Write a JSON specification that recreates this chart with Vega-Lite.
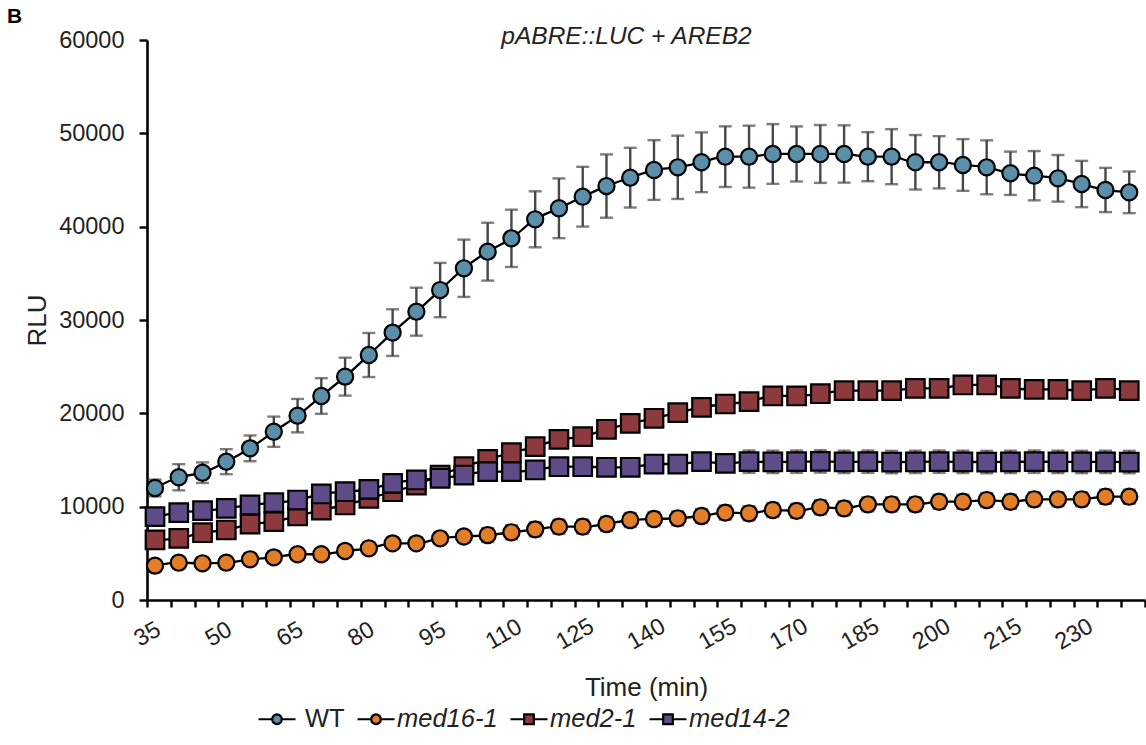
{
 "$schema": "https://vega.github.io/schema/vega-lite/v6.json",
 "width": 998, "height": 560,
 "autosize": {"type": "none"},
 "padding": {"left": 147, "top": 40, "right": 1, "bottom": 145},
 "background": "white",
 "title": {"text": "B", "anchor": "start", "frame": "group", "fontSize": 21, "fontWeight": "bold", "font": "Liberation Sans", "dx": -140, "offset": -4, "color": "#000"},
 "config": {"view": {"stroke": null}, "font": "Liberation Sans"},
 "data": {"values": [
{"t":35,"s":"WT","v":12000,"e":900},{"t":40,"s":"WT","v":13150,"e":1400},{"t":45,"s":"WT","v":13640,"e":1100},{"t":50,"s":"WT","v":14820,"e":1340},{"t":55,"s":"WT","v":16250,"e":1380},{"t":60,"s":"WT","v":18030,"e":1620},{"t":65,"s":"WT","v":19750,"e":1790},{"t":70,"s":"WT","v":21860,"e":1910},{"t":75,"s":"WT","v":23930,"e":2030},{"t":80,"s":"WT","v":26250,"e":2360},
{"t":85,"s":"WT","v":28650,"e":2500},{"t":90,"s":"WT","v":30890,"e":2570},{"t":95,"s":"WT","v":33210,"e":2910},{"t":100,"s":"WT","v":35540,"e":3070},{"t":105,"s":"WT","v":37320,"e":3100},{"t":110,"s":"WT","v":38750,"e":3070},{"t":115,"s":"WT","v":40790,"e":3000},{"t":120,"s":"WT","v":41970,"e":3200},{"t":125,"s":"WT","v":43210,"e":3200},{"t":130,"s":"WT","v":44350,"e":3390},
{"t":135,"s":"WT","v":45250,"e":3200},{"t":140,"s":"WT","v":46070,"e":3200},{"t":145,"s":"WT","v":46360,"e":3390},{"t":150,"s":"WT","v":46900,"e":3200},{"t":155,"s":"WT","v":47500,"e":3250},{"t":160,"s":"WT","v":47500,"e":3320},{"t":165,"s":"WT","v":47790,"e":3200},{"t":170,"s":"WT","v":47790,"e":2950},{"t":175,"s":"WT","v":47790,"e":3100},{"t":180,"s":"WT","v":47790,"e":3070},
{"t":185,"s":"WT","v":47500,"e":2630},{"t":190,"s":"WT","v":47500,"e":2950},{"t":195,"s":"WT","v":46900,"e":2920},{"t":200,"s":"WT","v":46900,"e":2800},{"t":205,"s":"WT","v":46610,"e":2770},{"t":210,"s":"WT","v":46360,"e":2890},{"t":215,"s":"WT","v":45720,"e":2320},{"t":220,"s":"WT","v":45460,"e":2640},{"t":225,"s":"WT","v":45180,"e":2500},{"t":230,"s":"WT","v":44570,"e":2480},{"t":235,"s":"WT","v":43930,"e":2370},{"t":240,"s":"WT","v":43680,"e":2230},
{"t":35,"s":"med16-1","v":3680,"e":600},{"t":40,"s":"med16-1","v":4000,"e":600},{"t":45,"s":"med16-1","v":3930,"e":600},{"t":50,"s":"med16-1","v":4000,"e":600},{"t":55,"s":"med16-1","v":4360,"e":600},{"t":60,"s":"med16-1","v":4570,"e":600},{"t":65,"s":"med16-1","v":4900,"e":600},{"t":70,"s":"med16-1","v":4900,"e":600},{"t":75,"s":"med16-1","v":5250,"e":600},{"t":80,"s":"med16-1","v":5540,"e":600},
{"t":85,"s":"med16-1","v":6070,"e":600},{"t":90,"s":"med16-1","v":6070,"e":600},{"t":95,"s":"med16-1","v":6610,"e":600},{"t":100,"s":"med16-1","v":6800,"e":600},{"t":105,"s":"med16-1","v":6960,"e":750},{"t":110,"s":"med16-1","v":7250,"e":750},{"t":115,"s":"med16-1","v":7570,"e":750},{"t":120,"s":"med16-1","v":7860,"e":750},{"t":125,"s":"med16-1","v":7860,"e":750},{"t":130,"s":"med16-1","v":8140,"e":750},
{"t":135,"s":"med16-1","v":8570,"e":750},{"t":140,"s":"med16-1","v":8680,"e":750},{"t":145,"s":"med16-1","v":8750,"e":750},{"t":150,"s":"med16-1","v":9000,"e":750},{"t":155,"s":"med16-1","v":9360,"e":750},{"t":160,"s":"med16-1","v":9290,"e":750},{"t":165,"s":"med16-1","v":9640,"e":750},{"t":170,"s":"med16-1","v":9550,"e":750},{"t":175,"s":"med16-1","v":9930,"e":750},{"t":180,"s":"med16-1","v":9820,"e":750},
{"t":185,"s":"med16-1","v":10250,"e":750},{"t":190,"s":"med16-1","v":10250,"e":750},{"t":195,"s":"med16-1","v":10250,"e":750},{"t":200,"s":"med16-1","v":10530,"e":750},{"t":205,"s":"med16-1","v":10530,"e":750},{"t":210,"s":"med16-1","v":10710,"e":750},{"t":215,"s":"med16-1","v":10530,"e":750},{"t":220,"s":"med16-1","v":10790,"e":750},{"t":225,"s":"med16-1","v":10790,"e":750},{"t":230,"s":"med16-1","v":10790,"e":750},{"t":235,"s":"med16-1","v":11070,"e":750},{"t":240,"s":"med16-1","v":11070,"e":750},
{"t":35,"s":"med2-1","v":6430,"e":700},{"t":40,"s":"med2-1","v":6610,"e":700},{"t":45,"s":"med2-1","v":7210,"e":700},{"t":50,"s":"med2-1","v":7500,"e":700},{"t":55,"s":"med2-1","v":8140,"e":700},{"t":60,"s":"med2-1","v":8390,"e":700},{"t":65,"s":"med2-1","v":9000,"e":700},{"t":70,"s":"med2-1","v":9640,"e":700},{"t":75,"s":"med2-1","v":10180,"e":700},{"t":80,"s":"med2-1","v":10890,"e":700},
{"t":85,"s":"med2-1","v":11600,"e":700},{"t":90,"s":"med2-1","v":12320,"e":700},{"t":95,"s":"med2-1","v":13390,"e":700},{"t":100,"s":"med2-1","v":14280,"e":900},{"t":105,"s":"med2-1","v":15070,"e":900},{"t":110,"s":"med2-1","v":15780,"e":900},{"t":115,"s":"med2-1","v":16430,"e":900},{"t":120,"s":"med2-1","v":17210,"e":900},{"t":125,"s":"med2-1","v":17500,"e":900},{"t":130,"s":"med2-1","v":18290,"e":900},
{"t":135,"s":"med2-1","v":18930,"e":900},{"t":140,"s":"med2-1","v":19470,"e":900},{"t":145,"s":"med2-1","v":20070,"e":900},{"t":150,"s":"med2-1","v":20640,"e":900},{"t":155,"s":"med2-1","v":21000,"e":900},{"t":160,"s":"med2-1","v":21250,"e":900},{"t":165,"s":"med2-1","v":21860,"e":900},{"t":170,"s":"med2-1","v":21860,"e":900},{"t":175,"s":"med2-1","v":22100,"e":900},{"t":180,"s":"med2-1","v":22430,"e":900},
{"t":185,"s":"med2-1","v":22430,"e":900},{"t":190,"s":"med2-1","v":22430,"e":900},{"t":195,"s":"med2-1","v":22680,"e":900},{"t":200,"s":"med2-1","v":22680,"e":900},{"t":205,"s":"med2-1","v":23040,"e":900},{"t":210,"s":"med2-1","v":23040,"e":900},{"t":215,"s":"med2-1","v":22680,"e":900},{"t":220,"s":"med2-1","v":22570,"e":900},{"t":225,"s":"med2-1","v":22570,"e":900},{"t":230,"s":"med2-1","v":22430,"e":900},{"t":235,"s":"med2-1","v":22680,"e":900},{"t":240,"s":"med2-1","v":22430,"e":900},
{"t":35,"s":"med14-2","v":8930,"e":700},{"t":40,"s":"med14-2","v":9360,"e":700},{"t":45,"s":"med14-2","v":9570,"e":700},{"t":50,"s":"med14-2","v":9820,"e":700},{"t":55,"s":"med14-2","v":10180,"e":700},{"t":60,"s":"med14-2","v":10430,"e":700},{"t":65,"s":"med14-2","v":10710,"e":700},{"t":70,"s":"med14-2","v":11360,"e":700},{"t":75,"s":"med14-2","v":11600,"e":700},{"t":80,"s":"med14-2","v":11860,"e":700},
{"t":85,"s":"med14-2","v":12500,"e":700},{"t":90,"s":"med14-2","v":12860,"e":700},{"t":95,"s":"med14-2","v":13040,"e":700},{"t":100,"s":"med14-2","v":13390,"e":900},{"t":105,"s":"med14-2","v":13750,"e":900},{"t":110,"s":"med14-2","v":13750,"e":900},{"t":115,"s":"med14-2","v":13930,"e":900},{"t":120,"s":"med14-2","v":14280,"e":900},{"t":125,"s":"med14-2","v":14280,"e":900},{"t":130,"s":"med14-2","v":14220,"e":900},
{"t":135,"s":"med14-2","v":14220,"e":900},{"t":140,"s":"med14-2","v":14570,"e":900},{"t":145,"s":"med14-2","v":14570,"e":900},{"t":150,"s":"med14-2","v":14820,"e":900},{"t":155,"s":"med14-2","v":14640,"e":900},{"t":160,"s":"med14-2","v":14820,"e":1200},{"t":165,"s":"med14-2","v":14800,"e":1200},{"t":170,"s":"med14-2","v":14820,"e":1200},{"t":175,"s":"med14-2","v":14850,"e":1200},{"t":180,"s":"med14-2","v":14800,"e":1200},
{"t":185,"s":"med14-2","v":14820,"e":1200},{"t":190,"s":"med14-2","v":14780,"e":1200},{"t":195,"s":"med14-2","v":14800,"e":1200},{"t":200,"s":"med14-2","v":14820,"e":1200},{"t":205,"s":"med14-2","v":14800,"e":1200},{"t":210,"s":"med14-2","v":14780,"e":1200},{"t":215,"s":"med14-2","v":14800,"e":1200},{"t":220,"s":"med14-2","v":14820,"e":1200},{"t":225,"s":"med14-2","v":14800,"e":1200},{"t":230,"s":"med14-2","v":14790,"e":1200},{"t":235,"s":"med14-2","v":14800,"e":1200},{"t":240,"s":"med14-2","v":14780,"e":1200}
 ]},
 "encoding": {
  "y": {"field": "v", "type": "quantitative", "scale": {"domain": [0, 60000]},
   "axis": {"values": [0,10000,20000,30000,40000,50000,60000], "format": "d", "labelFontSize": 23.5, "labelColor": "#222", "labelPadding": 15, "tickSize": 8, "tickWidth": 2.4, "tickColor": "black", "domainColor": "black", "domainWidth": 2.6, "grid": false, "title": "RLU", "titleFontSize": 26, "titleFontWeight": "normal", "titleColor": "#222", "titlePadding": 8}}
 },
 "layer": [
  {"mark": {"type": "errorbar", "ticks": {"xOffset": 8}, "rule": {"xOffset": 8}, "size": 13, "thickness": 2.4, "color": "#474747"},
   "encoding": {
    "x": {"field": "t", "type": "quantitative", "scale": {"domain": [35, 245]}, "axis": null},
    "yError": {"field": "e"}
   }},
  {"mark": {"type": "line", "color": "black", "strokeWidth": 2.3, "interpolate": "monotone", "xOffset": 8},
   "encoding": {
    "x": {"field": "t", "type": "quantitative", "scale": {"domain": [35, 245]},
     "axis": {"orient": "bottom", "values": [35,40,45,50,55,60,65,70,75,80,85,90,95,100,105,110,115,120,125,130,135,140,145,150,155,160,165,170,175,180,185,190,195,200,205,210,215,220,225,230,235,240,245],
      "labelExpr": "(datum.value - 35) % 15 == 0 && datum.value < 245 ? datum.label : ''",
      "labelAngle": -30, "labelAlign": "center", "labelBaseline": "middle", "labelPadding": 27, "labelFontSize": 23.5, "labelColor": "#222", "labelOverlap": false, "labelFlush": false,
      "tickSize": 7, "tickWidth": 2.4, "tickColor": "black", "domainColor": "black", "domainWidth": 2.6, "grid": false,
      "title": "Time (min)", "titleFontSize": 26, "titleFontWeight": "normal", "titleColor": "#222", "titlePadding": 21}},
    "detail": {"field": "s"}
   }},
  {"transform": [{"filter": "datum.s == 'WT' || datum.s == 'med16-1'"}],
   "mark": {"type": "point", "shape": "circle", "filled": true, "stroke": "black", "strokeWidth": 2.2, "opacity": 1, "xOffset": 8, "size": 260},
   "encoding": {
    "x": {"field": "t", "type": "quantitative", "scale": {"domain": [35, 245]},
     "axis": {"orient": "top", "title": "pABRE::LUC + AREB2", "titleFontStyle": "italic", "titleFontWeight": "normal", "titleFontSize": 24.5, "titleColor": "#222", "labels": false, "ticks": false, "domain": false, "grid": false, "titleX": 479, "titleY": 3, "titleBaseline": "alphabetic", "titleAlign": "center"}},
    "fill": {"field": "s", "type": "nominal", "sort": null,
     "scale": {"domain": ["WT", "med16-1", "med2-1", "med14-2"], "range": ["#5a8faa", "#e27d28", "#8c3a3e", "#5f4b87"]},
     "legend": {"orient": "none", "legendX": 110, "legendY": 659, "direction": "horizontal", "title": null,
      "labelFontSize": 25.5, "labelFont": "Liberation Sans", "labelColor": "#222", "labelOffset": {"expr": "datum.label == 'WT' ? 8 : 1"}, "columnPadding": 8, "symbolSize": 1369, "symbolStrokeWidth": 2.2, "symbolStrokeColor": "black", "symbolOpacity": 1,
      "symbolType": {"expr": "(datum.label == 'WT' || datum.label == 'med16-1') ? 'M-1,0H-0.26M0.26,0H1M0.26,0A0.26,0.26 0 1,1 -0.26,0A0.26,0.26 0 1,1 0.26,0Z' : 'M-1,0H-0.26M0.26,0H1M-0.26,-0.26H0.26V0.26H-0.26Z'"},
      "labelFontStyle": {"expr": "datum.label == 'WT' ? 'normal' : 'italic'"}}}
   }},
  {"transform": [{"filter": "datum.s == 'med2-1' || datum.s == 'med14-2'"}],
   "mark": {"type": "point", "shape": "M-1.15,-1.15H1.15V1.15H-1.15Z", "filled": true, "stroke": "black", "strokeWidth": 2.2, "opacity": 1, "xOffset": 8, "size": 260},
   "encoding": {
    "x": {"field": "t", "type": "quantitative", "scale": {"domain": [35, 245]}, "axis": null},
    "fill": {"field": "s", "type": "nominal", "sort": null,
     "scale": {"domain": ["WT", "med16-1", "med2-1", "med14-2"], "range": ["#5a8faa", "#e27d28", "#8c3a3e", "#5f4b87"]},
     "legend": {"orient": "none", "legendX": 110, "legendY": 659, "direction": "horizontal", "title": null,
      "labelFontSize": 25.5, "labelFont": "Liberation Sans", "labelColor": "#222", "labelOffset": {"expr": "datum.label == 'WT' ? 8 : 1"}, "columnPadding": 8, "symbolSize": 1369, "symbolStrokeWidth": 2.2, "symbolStrokeColor": "black", "symbolOpacity": 1,
      "symbolType": {"expr": "(datum.label == 'WT' || datum.label == 'med16-1') ? 'M-1,0H-0.26M0.26,0H1M0.26,0A0.26,0.26 0 1,1 -0.26,0A0.26,0.26 0 1,1 0.26,0Z' : 'M-1,0H-0.26M0.26,0H1M-0.26,-0.26H0.26V0.26H-0.26Z'"},
      "labelFontStyle": {"expr": "datum.label == 'WT' ? 'normal' : 'italic'"}}}
   }}
 ],
 "resolve": {"axis": {"x": "independent"}}
}
